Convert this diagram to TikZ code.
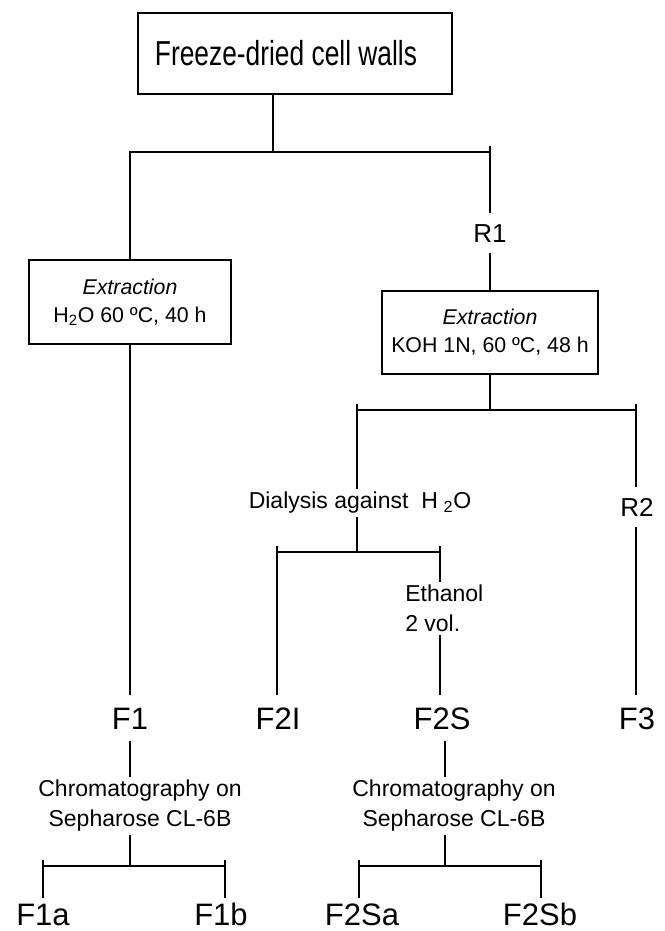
\documentclass[tikz,border=0pt]{standalone}
\usepackage{graphicx}
\usepackage{fontspec}
\setmainfont{Liberation Sans}
\usetikzlibrary{positioning}

\tikzset{
  wire/.style={line width=2.1pt, line cap=rect},
  frame/.style={draw, line width=1.7pt, align=center, inner sep=0pt,
    font=\fontsize{16}{21}\selectfont},
  fraction/.style={inner xsep=0pt, inner ysep=10pt, text height=16.6pt,
    text depth=0pt, font=\fontsize{23.25}{28}\selectfont},
  subfraction/.style={fraction, inner ysep=1.5pt},
  residue/.style={inner xsep=0pt, inner ysep=9pt, text height=14pt,
    text depth=0pt, font=\fontsize{19.5}{24}\selectfont},
  treat/.style={inner xsep=0pt, inner ysep=3pt, align=center,
    font=\fontsize{17.25}{22.5}\selectfont},
}

\begin{document}
\begin{tikzpicture}[x=0.75pt, y=-0.75pt]
  \useasboundingbox (0,0) rectangle (664,931);

  % boxes
  \node[frame, minimum width=235pt, minimum height=60.5pt] (walls) at (295,53.5)
    {\scalebox{0.76}[1]{\fontsize{26}{30}\selectfont Freeze-dried cell walls}\hspace*{13.5pt}};
  \node[frame, minimum width=151pt, minimum height=62.5pt] (ext1) at (130,302)
    {\textit{Extraction}\\H\textsubscript{2}O 60 ºC, 40 h};
  \node[frame, minimum width=161.5pt, minimum height=62pt] (ext2) at (490,332.5)
    {\textit{Extraction}\\KOH 1N, 60 ºC, 48 h};

  % residues and fractions
  \node[residue] (R1) at (490,233) {R1};
  \node[residue] (R2) at (637,507) {R2};
  \node[fraction] (F1) at (130,718) {F1};
  \node[fraction] (F2I) at (278,718) {F2I};
  \node[fraction] (F2S) at (442,718) {F2S};
  \node[fraction] (F3) at (637,718) {F3};
  \node[subfraction] (F1a) at (43,914) {F1a};
  \node[subfraction] (F1b) at (221,914) {F1b};
  \node[subfraction] (F2Sa) at (362,914) {F2Sa};
  \node[subfraction] (F2Sb) at (540,914) {F2Sb};

  % treatments
  \node[treat] (dial) at (360,503) {Dialysis against\ \ H\hspace{0.25em}\textsubscript{2}O};
  \node[treat, align=left, anchor=west] (eth) at (405,608.5) {Ethanol\\2 vol.};
  \node[treat] (chromA) at (140,806) {Chromatography on\\Sepharose CL-6B};
  \node[treat] (chromB) at (454,806) {Chromatography on\\Sepharose CL-6B};

  % first split
  \coordinate (j1) at (273,152);
  \coordinate (b1l) at (130,152);
  \coordinate (b1r) at (490,152);
  \draw[wire] (j1 |- walls.south) -- (j1);
  \draw[wire] (b1l) -- (b1r);
  \draw[wire] (b1l) -- (b1l |- ext1.north);
  \draw[wire] ([yshift=3.75pt]b1r) -- (R1.north);
  \draw[wire] (R1.south) -- (R1.south |- ext2.north);
  \draw[wire] (ext1.south) -- (F1.north);

  % alkali extract
  \coordinate (j2) at (490,410);
  \coordinate (b2l) at (357,410);
  \coordinate (b2r) at (636,410);
  \draw[wire] (ext2.south) -- (j2);
  \draw[wire] (b2l) -- (b2r);
  \draw[wire] ([yshift=3.75pt]b2l) -- (b2l |- dial.north);
  \draw[wire] ([yshift=3.75pt]b2r) -- (b2r |- R2.north);
  \draw[wire] (b2r |- R2.south) -- (b2r |- F3.north);

  % dialysis
  \coordinate (j3) at (357,552);
  \coordinate (b3l) at (277,552);
  \coordinate (b3r) at (440,552);
  \draw[wire] (b2l |- dial.south) -- (j3);
  \draw[wire] (b3l) -- (b3r);
  \draw[wire] ([yshift=3.75pt]b3l) -- (b3l |- F2I.north);
  \draw[wire] ([yshift=3.75pt]b3r) -- (b3r |- eth.north);
  \draw[wire] (b3r |- eth.south) -- (b3r |- F2S.north);

  % chromatography of F1
  \coordinate (j4) at (130,866);
  \coordinate (b4l) at (43,866);
  \coordinate (b4r) at (225,866);
  \draw[wire] (F1.south) -- (j4 |- chromA.north);
  \draw[wire] (j4 |- chromA.south) -- (j4);
  \draw[wire] (b4l) -- (b4r);
  \draw[wire, shorten >=3pt] ([yshift=3.75pt]b4l) -- (b4l |- F1a.north);
  \draw[wire, shorten >=3pt] ([yshift=3.75pt]b4r) -- (b4r |- F1b.north);

  % chromatography of F2S
  \coordinate (j5) at (445,866);
  \coordinate (b5l) at (359,866);
  \coordinate (b5r) at (541,866);
  \draw[wire] (j5 |- F2S.south) -- (j5 |- chromB.north);
  \draw[wire] (j5 |- chromB.south) -- (j5);
  \draw[wire] (b5l) -- (b5r);
  \draw[wire, shorten >=3pt] ([yshift=3.75pt]b5l) -- (b5l |- F2Sa.north);
  \draw[wire, shorten >=3pt] ([yshift=3.75pt]b5r) -- (b5r |- F2Sb.north);
\end{tikzpicture}
\end{document}
